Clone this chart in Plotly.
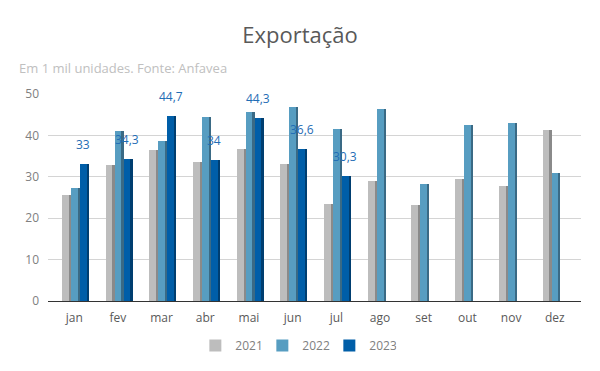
import plotly.graph_objects as go

months = ["jan", "fev", "mar", "abr", "mai", "jun", "jul", "ago", "set", "out", "nov", "dez"]
v2021 = [25.6, 32.9, 36.5, 33.6, 36.7, 33.1, 23.4, 29.1, 23.1, 29.5, 27.8, 41.3]
v2022 = [27.4, 41.1, 38.6, 44.4, 45.7, 46.9, 41.5, 46.4, 28.3, 42.6, 43.1, 31.0]
v2023 = [33.0, 34.3, 44.7, 34.0, 44.3, 36.6, 30.3]
labels2023 = ["33", "34,3", "44,7", "34", "44,3", "36,6", "30,3"]

series = [
    ("2021", v2021, "#bdbdbd", "#8a8a8a", -0.28),
    ("2022", v2022, "#579dc1", "#3a6a85", -0.075),
    ("2023", v2023, "#005ea8", "#003e70", 0.13),
]
front_w = 0.155
side_w = 0.05
FONT = "Open Sans"

fig = go.Figure()
xs = list(range(len(months)))
for name, vals, col, side, off in series:
    x = xs[:len(vals)]
    fig.add_trace(go.Bar(
        x=x, y=vals, name=name, marker=dict(color=col, line=dict(width=0)),
        offset=off, width=front_w, showlegend=True, hoverinfo="y",
    ))
    fig.add_trace(go.Bar(
        x=x, y=vals, name=name + " ", marker=dict(color=side, line=dict(width=0)),
        offset=off + front_w, width=side_w, showlegend=False, hoverinfo="skip",
    ))

for i, (v, t) in enumerate(zip(v2023, labels2023)):
    fig.add_annotation(x=i + 0.13 + front_w / 2, y=v, text=t, showarrow=False,
                       yanchor="bottom", yshift=9,
                       font=dict(family=FONT, size=12, color="#1f6db5"))

fig.add_annotation(xref="paper", yref="paper", x=-0.058, y=1.126, xanchor="left",
                   yanchor="middle", text="Em 1 mil unidades. Fonte: Anfavea",
                   showarrow=False, font=dict(family=FONT, size=13, color="#c0c0c0"))

fig.update_layout(
    width=600, height=371,
    margin=dict(l=40, r=27, t=86, b=78),
    paper_bgcolor="white", plot_bgcolor="white",
    barmode="overlay",
    title=dict(text="Exportação", x=0.4867, xanchor="center", y=0.927, yanchor="middle",
               font=dict(family=FONT, size=22, color="#595959")),
    font=dict(family=FONT, size=12, color="#595959"),
    xaxis=dict(tickmode="array", tickvals=xs, ticktext=months, range=[-0.6, 11.6],
               showgrid=False, showline=True, linecolor="#333333", linewidth=1,
               ticks="", ticklabelstandoff=6, tickfont=dict(size=12, color="#595959")),
    yaxis=dict(range=[0, 50], dtick=10, showgrid=True, gridcolor="#d4d4d4",
               zeroline=False, ticks="", ticklabelstandoff=8,
               tickfont=dict(size=12, color="#808080")),
    legend=dict(orientation="h", x=0.465, xanchor="center", y=-0.215, yanchor="middle",
                font=dict(size=12, color="#808080"), itemwidth=30,
                entrywidth=22, entrywidthmode="pixels"),
    bargap=0,
)
fig.write_html("out.html")
